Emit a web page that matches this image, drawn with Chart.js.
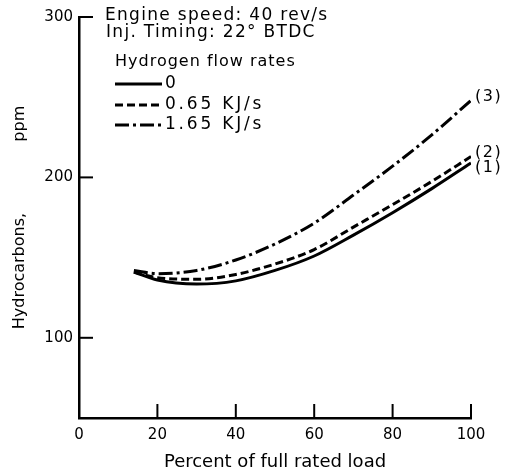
<!DOCTYPE html>
<html>
<head>
<meta charset="utf-8">
<script src="https://cdn.jsdelivr.net/npm/chart.js@4"></script>
<style>
  html, body { margin: 0; padding: 0; background: #fff; }
  #wrap { width: 511px; height: 475px; }
</style>
</head>
<body>
<div id="wrap"><canvas id="hcChart"></canvas></div>
<script>
// Datos
const loads = [14, 20, 30, 40, 50, 60, 70, 80, 90, 100];
const hcNone = [141, 136, 133.5, 135.5, 142, 151, 164, 178, 193, 209];
const hc065 = [141, 137.5, 136.5, 139.5, 146, 155, 169, 183, 197.5, 213];
const hc165 = [142, 140, 142, 148.5, 158.5, 171.5, 189, 207, 226.5, 248];
const seriesLabels = ["0", "0.65 KJ/s", "1.65 KJ/s"];
const endTags = ["(1)", "(2)", "(3)"];
const xTicks = [0, 20, 40, 60, 80, 100];
const yTicks = [100, 200, 300];
const notes = ["Engine speed: 40 rev/s", "Inj. Timing: 22\u00b0 BTDC", "Hydrogen flow rates"];

const font = "DejaVu Sans";
const pts = (vals) => loads.map((x, i) => ({ x: x, y: vals[i] }));
const dashes = [[], [8, 4], [14, 4, 3, 4]];

// ticks hacia dentro, leyenda y etiquetas (1)(2)(3)
const extras = {
    id: "extras",
    afterDraw(chart) {
        const ctx = chart.ctx;
        const xs = chart.scales.x, ys = chart.scales.y;
        const area = chart.chartArea;
        ctx.save();
        ctx.strokeStyle = "#000";
        ctx.lineWidth = 2;
        xTicks.forEach(v => {
            const px = xs.getPixelForValue(v);
            ctx.beginPath();
            ctx.moveTo(px, area.bottom);
            ctx.lineTo(px, area.bottom - 14);
            ctx.stroke();
        });
        yTicks.forEach(v => {
            const py = ys.getPixelForValue(v);
            ctx.beginPath();
            ctx.moveTo(area.left, py);
            ctx.lineTo(area.left + 14, py);
            ctx.stroke();
        });

        ctx.fillStyle = "#000";
        ctx.textBaseline = "middle";
        ctx.textAlign = "left";
        ctx.font = "17px '" + font + "'";
        ctx.letterSpacing = "1.3px";
        ctx.fillText(notes[0], 105, 16);
        ctx.fillText(notes[1], 106, 33);
        ctx.font = "16px '" + font + "'";
        ctx.letterSpacing = "1px";
        ctx.fillText(notes[2], 115, 62);

        const rows = [84, 105, 125];
        ctx.font = "17px '" + font + "'";
        ctx.letterSpacing = "2.8px";
        chart.data.datasets.forEach((ds, i) => {
            ctx.save();
            ctx.lineWidth = 3;
            ctx.setLineDash(ds.borderDash || []);
            ctx.beginPath();
            ctx.moveTo(115, rows[i]);
            ctx.lineTo(162, rows[i]);
            ctx.stroke();
            ctx.restore();
            ctx.fillText(seriesLabels[i], 165, rows[i]);
        });

        ctx.font = "16px '" + font + "'";
        ctx.letterSpacing = "1.5px";
        const dy = [5, -4, -4];
        chart.data.datasets.forEach((ds, i) => {
            const meta = chart.getDatasetMeta(i);
            const last = meta.data[meta.data.length - 1];
            ctx.fillText(endTags[i], last.x + 4, last.y + dy[i]);
        });
        ctx.restore();
    }
};

new Chart(document.getElementById("hcChart"), {
    type: "line",
    data: {
        datasets: [
            { label: seriesLabels[0], data: pts(hcNone), borderColor: "#000", borderWidth: 3, borderDash: dashes[0] },
            { label: seriesLabels[1], data: pts(hc065), borderColor: "#000", borderWidth: 3, borderDash: dashes[1] },
            { label: seriesLabels[2], data: pts(hc165), borderColor: "#000", borderWidth: 3, borderDash: dashes[2] }
        ]
    },
    options: {
        responsive: true,
        maintainAspectRatio: false,
        animation: false,
        layout: { padding: { top: 17, right: 40, left: 0, bottom: 0 } },
        elements: {
            point: { radius: 0 },
            line: { cubicInterpolationMode: "monotone", fill: false }
        },
        plugins: { legend: { display: false }, tooltip: { enabled: false } },
        scales: {
            x: {
                type: "linear",
                min: 0,
                max: 100,
                afterBuildTicks: (s) => { s.ticks = xTicks.map(v => ({ value: v })); },
                afterFit: (s) => { s.height = 57; },
                border: { color: "#000", width: 2.5 },
                grid: { drawOnChartArea: false, drawTicks: false },
                ticks: { color: "#000", padding: 8, maxRotation: 0, font: { family: font, size: 15 } },
                title: {
                    display: true,
                    text: "Percent of full rated load",
                    color: "#000",
                    font: { family: font, size: 18 },
                    padding: { top: 0, bottom: 2 }
                }
            },
            y: {
                min: 50,
                max: 300,
                afterBuildTicks: (s) => { s.ticks = yTicks.map(v => ({ value: v })); },
                afterFit: (s) => { s.width = 79; },
                border: { color: "#000", width: 2.5 },
                grid: { drawOnChartArea: false, drawTicks: false },
                ticks: { color: "#000", padding: 6, font: { family: font, size: 15 } },
                title: {
                    display: true,
                    text: "Hydrocarbons,              ppm",
                    color: "#000",
                    font: { family: font, size: 16 },
                    padding: { top: 10, bottom: 0 }
                }
            }
        }
    },
    plugins: [extras]
});
</script>
</body>
</html>
